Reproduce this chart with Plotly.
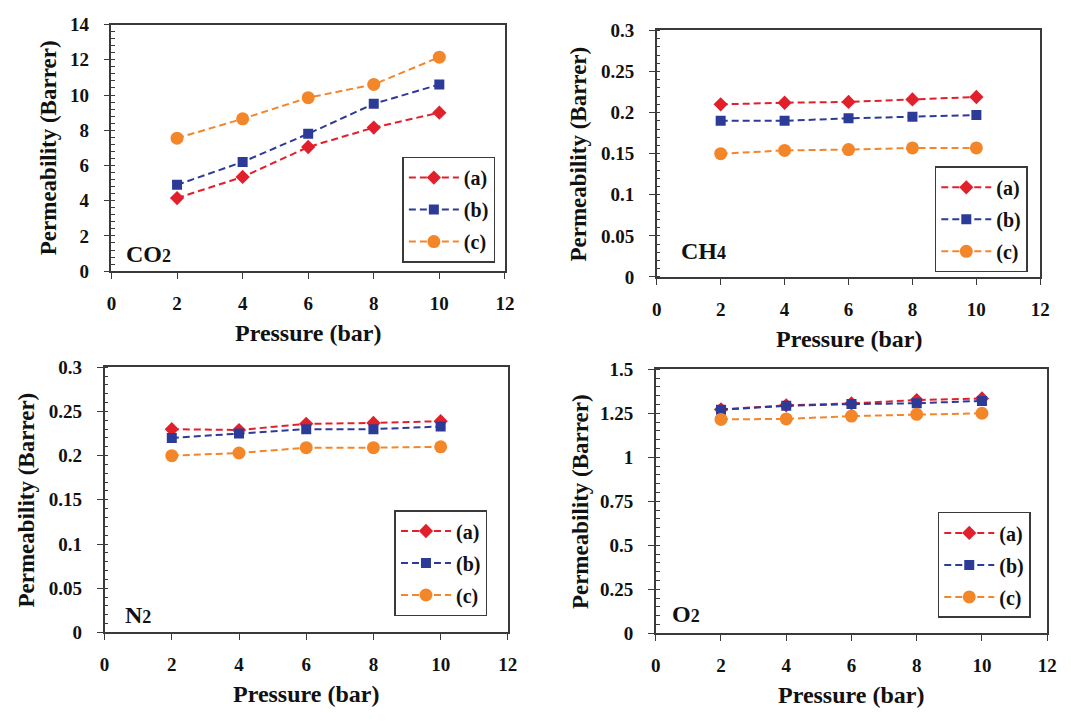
import plotly.graph_objects as go

# Pressure values (bar)
pressure = [2, 4, 6, 8, 10]

# Permeability (Barrer) for membranes (a), (b), (c)
co2_a = [4.15, 5.35, 7.05, 8.15, 9.0]
co2_b = [4.9, 6.2, 7.8, 9.5, 10.6]
co2_c = [7.55, 8.65, 9.85, 10.6, 12.15]

ch4_a = [0.210, 0.212, 0.213, 0.216, 0.219]
ch4_b = [0.190, 0.190, 0.193, 0.195, 0.197]
ch4_c = [0.150, 0.154, 0.155, 0.157, 0.157]

n2_a = [0.230, 0.229, 0.236, 0.237, 0.239]
n2_b = [0.220, 0.225, 0.230, 0.230, 0.233]
n2_c = [0.200, 0.203, 0.209, 0.209, 0.210]

o2_a = [1.272, 1.295, 1.306, 1.325, 1.334]
o2_b = [1.270, 1.292, 1.302, 1.307, 1.320]
o2_c = [1.215, 1.218, 1.234, 1.244, 1.250]

series_names = ["<b>(a)</b>", "<b>(b)</b>", "<b>(c)</b>"]
gas_names = [("CO", "2"), ("CH", "4"), ("N", "2"), ("O", "2")]
y_ranges = [(0, 14, 2, 0.4), (0, 0.3, 0.05, 0.01), (0, 0.3, 0.05, 0.01), (0, 1.5, 0.25, 0.05)]

W, H = 1071, 722
FONT = "Liberation Serif"

colors = ["#e2202c", "#2c3a98", "#f4862a"]
symbols = ["diamond", "square", "circle"]
msizes = [11, 10, 13]

# subplot frames in pixels: (left, top, right, bottom)
frames = [(108, 15, 507, 269), (661, 21, 1050, 275), (101, 368, 510, 641), (660, 370, 1057, 642)]
# legend boxes (left, top)
legend_pos = [(403, 151), (943, 161), (395, 515), (946, 517)]
# gas label positions (left, center y)
gas_pos = [(121, 251), (684, 248), (120, 623), (674, 622)]
# y-title centre offsets from the left axis line
ytitle_off = [63, 79, 79, 77]

data = [
    [co2_a, co2_b, co2_c],
    [ch4_a, ch4_b, ch4_c],
    [n2_a, n2_b, n2_c],
    [o2_a, o2_b, o2_c],
]

fig = go.Figure()
layout = dict(
    width=W, height=H,
    margin=dict(l=0, r=0, t=0, b=0),
    paper_bgcolor="white", plot_bgcolor="white",
    showlegend=True,
    font=dict(family=FONT, color="#111"),
    annotations=[],
)


def px(x):
    return x / W


def py(y):
    return 1 - y / H


for i in range(4):
    n = "" if i == 0 else str(i + 1)
    xa, ya = "x" + n, "y" + n
    leg = "legend" + n
    for j in range(3):
        fig.add_trace(go.Scatter(
            x=pressure, y=data[i][j], name=series_names[j],
            xaxis=xa, yaxis=ya, legend=leg,
            legendgroup=f"g{i}{j}",
            mode="lines+markers",
            line=dict(color=colors[j], width=2, dash="7px,4px"),
            marker=dict(symbol=symbols[j], size=msizes[j], color=colors[j]),
        ))
    l, t, r, b = frames[i]
    y0, y1, dt, mdt = y_ranges[i]
    common = dict(
        showline=True, linecolor="#3a3a3a", linewidth=1.5, mirror=True,
        showgrid=False, zeroline=False,
        tickfont=dict(family=FONT, size=19, color="#111", weight="bold"),
        ticks="outside", ticklen=6, tickwidth=1.3, tickcolor="#3a3a3a",
    )
    layout["xaxis" + n] = dict(
        domain=[px(l), px(r)], anchor=ya, range=[0, 12], dtick=2, tick0=0,
        ticklabelstandoff=8, **common,
    )
    layout["yaxis" + n] = dict(
        domain=[py(b), py(t)], anchor=xa, range=[y0, y1], dtick=dt, tick0=0,
        ticklabelstandoff=11,
        minor=dict(dtick=mdt, ticks="inside", ticklen=4, tickcolor="#3a3a3a", tickwidth=1),
        **common,
    )
    lx, ly = legend_pos[i]
    layout[leg] = dict(
        x=px(lx), y=py(ly), xanchor="left", yanchor="top",
        bgcolor="white", bordercolor="#3a3a3a", borderwidth=1.5,
        font=dict(family=FONT, size=20, color="#111"),
        tracegroupgap=3, itemwidth=50,
    )
    gx, gy = gas_pos[i]
    base, sub = gas_names[i]
    layout["annotations"].append(dict(
        text=f"<b>{base}<span style='font-size:18px'>{sub}</span></b>",
        x=px(gx), y=py(gy), xref="paper", yref="paper",
        xanchor="left", yanchor="middle", showarrow=False,
        font=dict(family=FONT, size=24, color="#111"),
    ))
    # axis titles
    layout["annotations"].append(dict(
        text="<b>Pressure (bar)</b>", x=px((l + r) / 2), y=py(b + 64), xref="paper", yref="paper",
        xanchor="center", yanchor="middle", showarrow=False,
        font=dict(family=FONT, size=24, color="#111"),
    ))
    layout["annotations"].append(dict(
        text="<b>Permeability (Barrer)</b>", x=px(l - ytitle_off[i]),
        y=py((t + b) / 2), xref="paper", yref="paper",
        xanchor="center", yanchor="middle", showarrow=False, textangle=-90,
        font=dict(family=FONT, size=23, color="#111"),
    ))

fig.update_layout(**layout)
fig.write_html("out.html")
